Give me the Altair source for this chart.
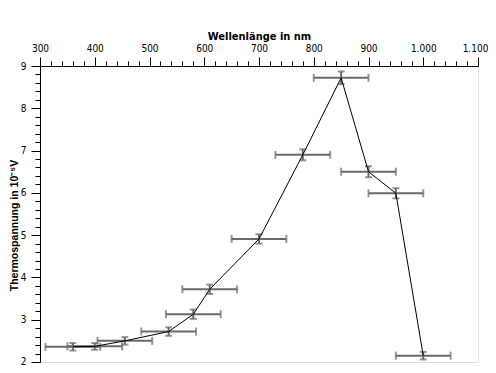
import altair as alt
import pandas as pd

# Data
wavelength = [360, 400, 455, 535, 580, 610, 700, 780, 850, 900, 950, 1000]
voltage = [2.36, 2.37, 2.50, 2.72, 3.13, 3.72, 4.91, 6.90, 8.72, 6.50, 5.99, 2.15]
wl_err = [50, 50, 50, 50, 50, 50, 50, 50, 50, 50, 50, 50]
v_err = [0.09, 0.08, 0.09, 0.10, 0.11, 0.11, 0.11, 0.13, 0.15, 0.13, 0.12, 0.09]

x_ticks = list(range(300, 1101, 20))
y_ticks = [round(2 + 0.2 * i, 1) for i in range(36)]

df = pd.DataFrame({
    "nm": wavelength,
    "v": voltage,
    "xlo": [w - e for w, e in zip(wavelength, wl_err)],
    "xhi": [w + e for w, e in zip(wavelength, wl_err)],
    "ylo": [round(v - e, 3) for v, e in zip(voltage, v_err)],
    "yhi": [round(v + e, 3) for v, e in zip(voltage, v_err)],
})

FONT = "DejaVu Sans Condensed, DejaVu Sans"
GRAY = "#6a6a6a"

xs = alt.Scale(domain=[300, 1100], nice=False, zero=False)
ys = alt.Scale(domain=[2, 9], nice=False, zero=False)

xaxis = alt.Axis(
    orient="top", values=x_ticks, title="Wellenlänge in nm",
    labelExpr="datum.value % 100 == 0 ? replace(format(datum.value, ','), ',', '.') : ''",
    tickSize={"condition": {"test": "datum.value % 100 == 0", "value": 9}, "value": 5},
    labelOffset={"condition": {"test": "datum.value >= 1100", "value": -3}, "value": 0},
    tickColor="black", domainColor="black", grid=False,
    labelFont=FONT, labelFontSize=10, labelColor="black", labelPadding=4,
    titleFont=FONT, titleFontSize=11, titleFontWeight="bold", titleColor="black",
    titleX=219, titleY=-27, titleBaseline="alphabetic", titleAlign="center",
    labelFlush=False, labelOverlap=False,
)
yaxis = alt.Axis(
    orient="left", values=y_ticks, title="Thermospannung in 10⁻⁵V",
    labelExpr="abs(datum.value - round(datum.value)) < 0.001 ? format(datum.value, 'd') : ''",
    tickSize={"condition": {"test": "abs(datum.value - round(datum.value)) < 0.001", "value": 9}, "value": 5},
    labelOffset={"condition": {"test": "datum.value <= 2", "value": -1}, "value": 0},
    tickColor="black", domainColor="black", grid=False,
    labelFont=FONT, labelFontSize=10, labelColor="black", labelPadding=5,
    titleFont="Liberation Sans", titleFontSize=10.5, titleFontWeight="bold", titleColor="black",
    titleAngle=270, titleX=-26, titleY=159, titleBaseline="middle", titleAlign="center",
    labelFlush=False, labelOverlap=False,
)


def X(f):
    return alt.X(f, type="quantitative", scale=xs, axis=xaxis)


def Y(f):
    return alt.Y(f, type="quantitative", scale=ys, axis=yaxis)


base = alt.Chart(df)

hbar = base.mark_rule(color=GRAY, strokeWidth=2).encode(x=X("xlo"), x2="xhi", y=Y("v"))
vbar = base.mark_rule(color=GRAY, strokeWidth=2).encode(x=X("nm"), y=Y("ylo"), y2="yhi")
hcap_l = base.mark_tick(orient="vertical", size=8, thickness=2, color=GRAY).encode(x=X("xlo"), y=Y("v"))
hcap_r = base.mark_tick(orient="vertical", size=8, thickness=2, color=GRAY).encode(x=X("xhi"), y=Y("v"))
vcap_l = base.mark_tick(orient="horizontal", size=7, thickness=2, color=GRAY).encode(x=X("nm"), y=Y("ylo"))
vcap_h = base.mark_tick(orient="horizontal", size=7, thickness=2, color=GRAY).encode(x=X("nm"), y=Y("yhi"))
line = base.mark_line(color="black", strokeWidth=1).encode(x=X("nm"), y=Y("v"))

chart = alt.layer(hbar, vbar, hcap_l, hcap_r, vcap_l, vcap_h, line).properties(
    width=438, height=296,
    autosize=alt.AutoSizeParams(type="none"),
    padding={"left": 32, "top": 58, "right": 10, "bottom": 3},
).configure_view(stroke=None).configure(background="white")

chart.save("out.html", embed_options={"renderer": "svg", "actions": False})
